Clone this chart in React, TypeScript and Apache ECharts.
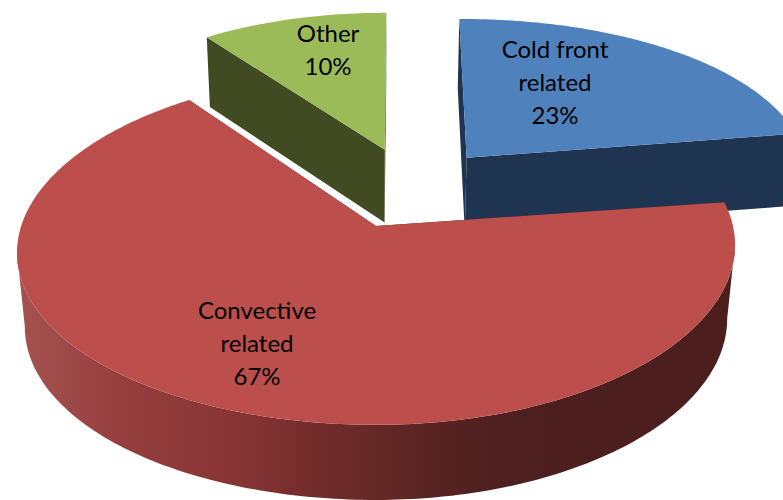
import React, { useEffect, useRef } from "react";
import * as echarts from "echarts";

// Shares of the exploded pie, clockwise from twelve o'clock.
const categories = ["Cold front\nrelated", "Convective\nrelated", "Other"];
const shares = [23, 67, 10];

const topColors = ["#4f81bd", "#bc4e4c", "#9bbb59"];
const wallColors = ["#1f3450", "#4c1f1e", "#404b22"];

// Shading along the large slice's rim, left to right.
const rimStops = [
  { offset: 0, color: "#a65250" },
  { offset: 0.157, color: "#933e3c" },
  { offset: 0.296, color: "#893536" },
  { offset: 0.394, color: "#762e2c" },
  { offset: 0.519, color: "#602725" },
  { offset: 0.658, color: "#4e201f" },
  { offset: 0.755, color: "#4c1f1e" },
  { offset: 1, color: "#4c1f1e" },
];

// Text centres of the three labels, in pixels.
const labelCentres = [
  [555, 81],
  [257, 342],
  [328, 49],
];

// Back slices are painted first so the large front slice overlaps them.
const paintOrder = [2, 0, 1];

// Perspective projection of the unit disc onto the page.
const CX = 376;
const CY = 226;
const RX = 356;
const RY = 173;
const TILT = 0.13;
const SHRINK = 0.022;
const YAW = 4;
const EXPLODE = 0.25;
const START_DEG = -89.5;
const RAD = Math.PI / 180;

function project(u: number, v: number, lower: boolean): number[] {
  const w = 1 - TILT * v + (lower ? SHRINK : 0);
  return [
    CX + (RX * u) / w,
    CY + (RY * v) / w - YAW * u * Math.abs(u) + (lower ? 74 + 6 * v : 0),
  ];
}

const total = shares.reduce((a, b) => a + b, 0);

function sliceAngles(i: number): number[] {
  const before = shares.slice(0, i).reduce((a, b) => a + b, 0);
  const a0 = START_DEG + (before / total) * 360;
  return [a0, a0 + (shares[i] / total) * 360];
}

function midDir(i: number): number[] {
  const [a0, a1] = sliceAngles(i);
  const m = ((a0 + a1) / 2) * RAD;
  return [Math.cos(m), Math.sin(m)];
}

// Apex of a slice on the disc: the largest slice sits at the projection origin.
function sliceOrigin(i: number): number[] {
  const largest = shares.indexOf(Math.max(...shares));
  const d = midDir(i);
  const r = midDir(largest);
  return [EXPLODE * (d[0] - r[0]), EXPLODE * (d[1] - r[1])];
}

function arcPoints(i: number, lower: boolean): number[][] {
  const [a0, a1] = sliceAngles(i);
  const o = sliceOrigin(i);
  const steps = Math.ceil(a1 - a0);
  const pts: number[][] = [];
  for (let s = 0; s <= steps; s++) {
    const a = (a0 + ((a1 - a0) * s) / steps) * RAD;
    pts.push(project(o[0] + Math.cos(a), o[1] + Math.sin(a), lower));
  }
  return pts;
}

// Part of an arc between its rightmost and leftmost points.
function frontSpan(arc: number[][]): number[][] {
  let r = 0;
  let l = 0;
  arc.forEach((p, k) => {
    if (p[0] > arc[r][0]) r = k;
    if (p[0] < arc[l][0]) l = k;
  });
  return arc.slice(Math.min(r, l), Math.max(r, l) + 1);
}

function renderSlice(_params: any, api: any): any {
  const i = api.value(0);
  const o = sliceOrigin(i);
  const topArc = arcPoints(i, false);
  const lowArc = arcPoints(i, true);
  const apexTop = project(o[0], o[1], false);
  const apexLow = project(o[0], o[1], true);
  const last = topArc.length - 1;
  const poly = (points: number[][], fill: any) => ({
    type: "polygon",
    shape: { points },
    style: { fill, stroke: "none" },
  });
  const children: any[] = [
    poly([apexTop, topArc[0], lowArc[0], apexLow], wallColors[i]),
    poly([apexTop, topArc[last], lowArc[last], apexLow], wallColors[i]),
  ];
  // Only the large slice shows its outer rim; the others turn it away from view.
  if (i === 1) {
    children.push(
      poly(
        [...frontSpan(topArc), ...frontSpan(lowArc).reverse()],
        new echarts.graphic.LinearGradient(0, 0, 1, 0, rimStops)
      )
    );
  }
  children.push(poly([apexTop, ...topArc], topColors[i]), {
    type: "text",
    x: labelCentres[i][0],
    y: labelCentres[i][1],
    style: {
      text: `${categories[i]}\n${shares[i]}%`,
      fill: "#000000",
      font: '24px Lato, "Open Sans", sans-serif',
      lineHeight: 33,
      align: "center",
      verticalAlign: "middle",
    },
  });
  return { type: "group", children };
}

export default function App() {
  const ref = useRef<HTMLDivElement>(null);
  useEffect(() => {
    const chart = echarts.init(ref.current, undefined, { renderer: "svg" });
    chart.setOption({
      animation: false,
      backgroundColor: "#ffffff",
      series: [
        {
          type: "custom",
          coordinateSystem: "none",
          clip: false,
          renderItem: renderSlice,
          data: paintOrder.map((i) => ({ name: categories[i], value: [i, shares[i]] })),
        },
      ],
    });
    return () => chart.dispose();
  }, []);
  return (
    <div
      ref={ref}
      style={{ position: "absolute", left: 0, top: 0, width: 783, height: 500 }}
    />
  );
}
